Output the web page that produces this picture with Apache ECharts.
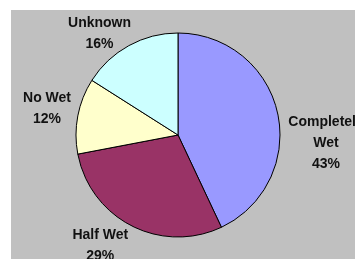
<!DOCTYPE html>
<html>
<head>
<meta charset="utf-8">
<script src="https://cdn.jsdelivr.net/npm/echarts@6/dist/echarts.min.js"></script>
<style>
html,body{margin:0;padding:0;background:#fff;}
#main{width:355px;height:259px;}
</style>
</head>
<body>
<div id="main"></div>
<script>
// data
var categories = ['Completely\nWet', 'Half Wet', 'No Wet', 'Unknown'];
var values = [43, 29, 12, 16];
var colors = ['#9999FF', '#993366', '#FFFFCC', '#CCFFFF'];
// label nudges (px) from the default outside spot
var labelDx = [-4, 6, 8, 12];
var labelDy = [33, 11, -5, -3];

var myChart = echarts.init(document.getElementById('main'));

var pieData = [];
for (var i = 0; i < categories.length; i++) {
	pieData.push({
		name: categories[i],
		value: values[i],
		itemStyle: { color: colors[i] }
	});
}

var option = {
	animation: false,
	graphic: [{
		type: 'rect',
		left: 11,
		top: 10,
		shape: { width: 344, height: 249 },
		style: { fill: '#C0C0C0' },
		z: -10
	}],
	series: [{
		type: 'pie',
		center: [178, 135],
		radius: 102,
		startAngle: 90,
		clockwise: true,
		data: pieData,
		itemStyle: { borderColor: '#000', borderWidth: 1 },
		label: {
			show: true,
			position: 'outside',
			formatter: '{b}\n{d}%',
			fontFamily: 'Liberation Sans, Arial',
			fontWeight: 'bold',
			fontSize: 14,
			lineHeight: 21,
			color: '#111',
			overflow: 'none'
		},
		labelLine: { show: false, length: 10, length2: 0 },
		labelLayout: function (params) {
			var r = params.labelRect;
			var k = params.dataIndex;
			return {
				x: r.x + r.width / 2 + labelDx[k],
				y: r.y + r.height / 2 + labelDy[k],
				align: 'center',
				verticalAlign: 'middle'
			};
		},
		emphasis: { disabled: true }
	}]
};
myChart.setOption(option);
</script>
</body>
</html>
